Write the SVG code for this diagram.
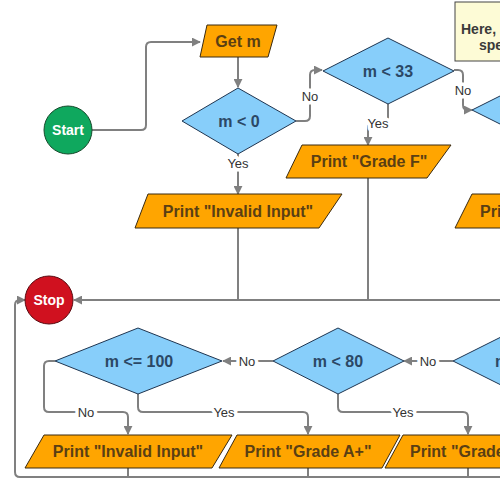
<svg xmlns="http://www.w3.org/2000/svg" width="500" height="484" viewBox="0 0 500 484">
<defs>
<marker id="ah" viewBox="0 0 10 10" refX="9" refY="5" markerWidth="4.5" markerHeight="4.5" orient="auto">
<path d="M0,0 L10,5 L0,10 z" fill="#808080"/>
</marker>
<style>
.c{fill:none;stroke:#808080;stroke-width:2}
.a{marker-end:url(#ah)}
.io{fill:#ffa500;stroke:#3a2a10;stroke-width:1}
.dc{fill:#87cefa;stroke:#1f3550;stroke-width:1}
.t{font-family:"Liberation Sans",Arial,sans-serif;font-weight:bold;font-size:16px;text-anchor:middle;dominant-baseline:central}
.ti{fill:#5a3f14}
.td{fill:#2b4866}
.lb{font-family:"Liberation Sans",Arial,sans-serif;font-size:13px;fill:#333;text-anchor:middle;dominant-baseline:central;stroke:#fff;stroke-width:7;paint-order:stroke;stroke-linejoin:round}
</style>
</defs>
<rect width="500" height="484" fill="#fff"/>
<g id="connectors">
<path class="c a" d="M92,130 H141 Q146,130 146,125 V47 Q146,42 151,42 H200"/>
<path class="c a" d="M238,57 V87"/>
<path class="c a" d="M238,154 V194"/>
<path class="c a" d="M296,121 H305 Q310,121 310,116 V75 Q310,70 315,70 H322"/>
<path class="c a" d="M388,104 V118 Q388,123 383,123 H373 Q368,123 368,128 V145"/>
<path class="c a" d="M454,70 H458 Q463,70 463,75 V105 Q463,110 468,110 H472"/>
<path class="c" d="M238,228 V300"/>
<path class="c" d="M368,178 V300"/>
<path class="c a" d="M500,300 H74"/>
<path class="c a" d="M500,477 H20 Q15,477 15,472 V305 Q15,300 20,300 H25"/>
<path class="c" d="M128,468 V477 M308,468 V477 M468,468 V477"/>
<path class="c a" d="M273,361 H223"/>
<path class="c a" d="M453,361 H404"/>
<path class="c a" d="M55,361 H49 Q44,361 44,366 V407 Q44,412 49,412 H123 Q128,412 128,417 V434"/>
<path class="c a" d="M138,394 V407 Q138,412 143,412 H303 Q308,412 308,417 V434"/>
<path class="c a" d="M338,394 V407 Q338,412 343,412 H463 Q468,412 468,417 V434"/>
<text class="lb" x="238" y="163">Yes</text>
<text class="lb" x="310" y="96">No</text>
<text class="lb" x="378" y="123">Yes</text>
<text class="lb" x="463" y="90">No</text>
<text class="lb" x="247" y="361">No</text>
<text class="lb" x="428" y="361">No</text>
<text class="lb" x="86" y="412">No</text>
<text class="lb" x="224" y="412">Yes</text>
<text class="lb" x="403" y="412">Yes</text>
</g>
<g id="start">
<circle cx="68" cy="130" r="24" fill="#0fa85e" stroke="#174a2c" stroke-width="1"/>
<text class="t" x="68" y="130" fill="#fff" style="font-size:14px">Start</text>
</g>
<g id="getm">
<polygon class="io" points="207,25 277,25 268,57 200,57"/>
<text class="t ti" x="238" y="41">Get m</text>
</g>
<g id="d1">
<polygon class="dc" points="182,121 238,88 296,121 238,154"/>
<text class="t td" x="239" y="121">m &lt; 0</text>
</g>
<g id="p1">
<polygon class="io" points="148,194 342,194 319,228 135,228"/>
<text class="t ti" x="238" y="211">Print "Invalid Input"</text>
</g>
<g id="d2">
<polygon class="dc" points="323,71 388,38 454,71 388,104"/>
<text class="t td" x="388" y="71">m &lt; 33</text>
</g>
<g id="p2">
<polygon class="io" points="302,145 451,145 427,178 286,178"/>
<text class="t ti" x="369" y="161">Print "Grade F"</text>
</g>
<g id="d3">
<polygon class="dc" points="472,110 538,77 604,110 538,143"/>
</g>
<g id="p3">
<polygon class="io" points="472,194 650,194 630,228 455,228"/>
<text class="t ti" x="480" y="211" style="text-anchor:start">Print "Grade E"</text>
</g>
<g id="note">
<rect x="455" y="2" width="120" height="59" fill="#fdfbd6" stroke="#444" stroke-width="1"/>
<text x="461" y="34" font-family="Liberation Sans, Arial, sans-serif" font-weight="bold" font-size="14" fill="#3a3a3a">Here,</text>
<text x="479" y="50" font-family="Liberation Sans, Arial, sans-serif" font-weight="bold" font-size="14" fill="#3a3a3a">spe</text>
</g>
<g id="stop">
<circle cx="49" cy="300" r="24" fill="#d0111f" stroke="#5a0a10" stroke-width="1"/>
<text class="t" x="49" y="300" fill="#fff" style="font-size:14px">Stop</text>
</g>
<g id="d4">
<polygon class="dc" points="55,361 138,328 222,361 138,394"/>
<text class="t td" x="139" y="361">m &lt;= 100</text>
</g>
<g id="d5">
<polygon class="dc" points="273,361 338,328 404,361 338,394"/>
<text class="t td" x="338" y="361">m &lt; 80</text>
</g>
<g id="d6">
<polygon class="dc" points="453,361 519,328 585,361 519,394"/>
<text class="t td" x="495" y="361" style="text-anchor:start">m &lt; 90</text>
</g>
<g id="p4">
<polygon class="io" points="44,435 232,435 212,468 25,468"/>
<text class="t ti" x="128" y="451">Print "Invalid Input"</text>
</g>
<g id="p5">
<polygon class="io" points="237,435 400,435 382,468 219,468"/>
<text class="t ti" x="308" y="451">Print "Grade A+"</text>
</g>
<g id="p6">
<polygon class="io" points="403,435 570,435 550,468 385,468"/>
<text class="t ti" x="410" y="451" style="text-anchor:start">Print "Grade A"</text>
</g>
</svg>
